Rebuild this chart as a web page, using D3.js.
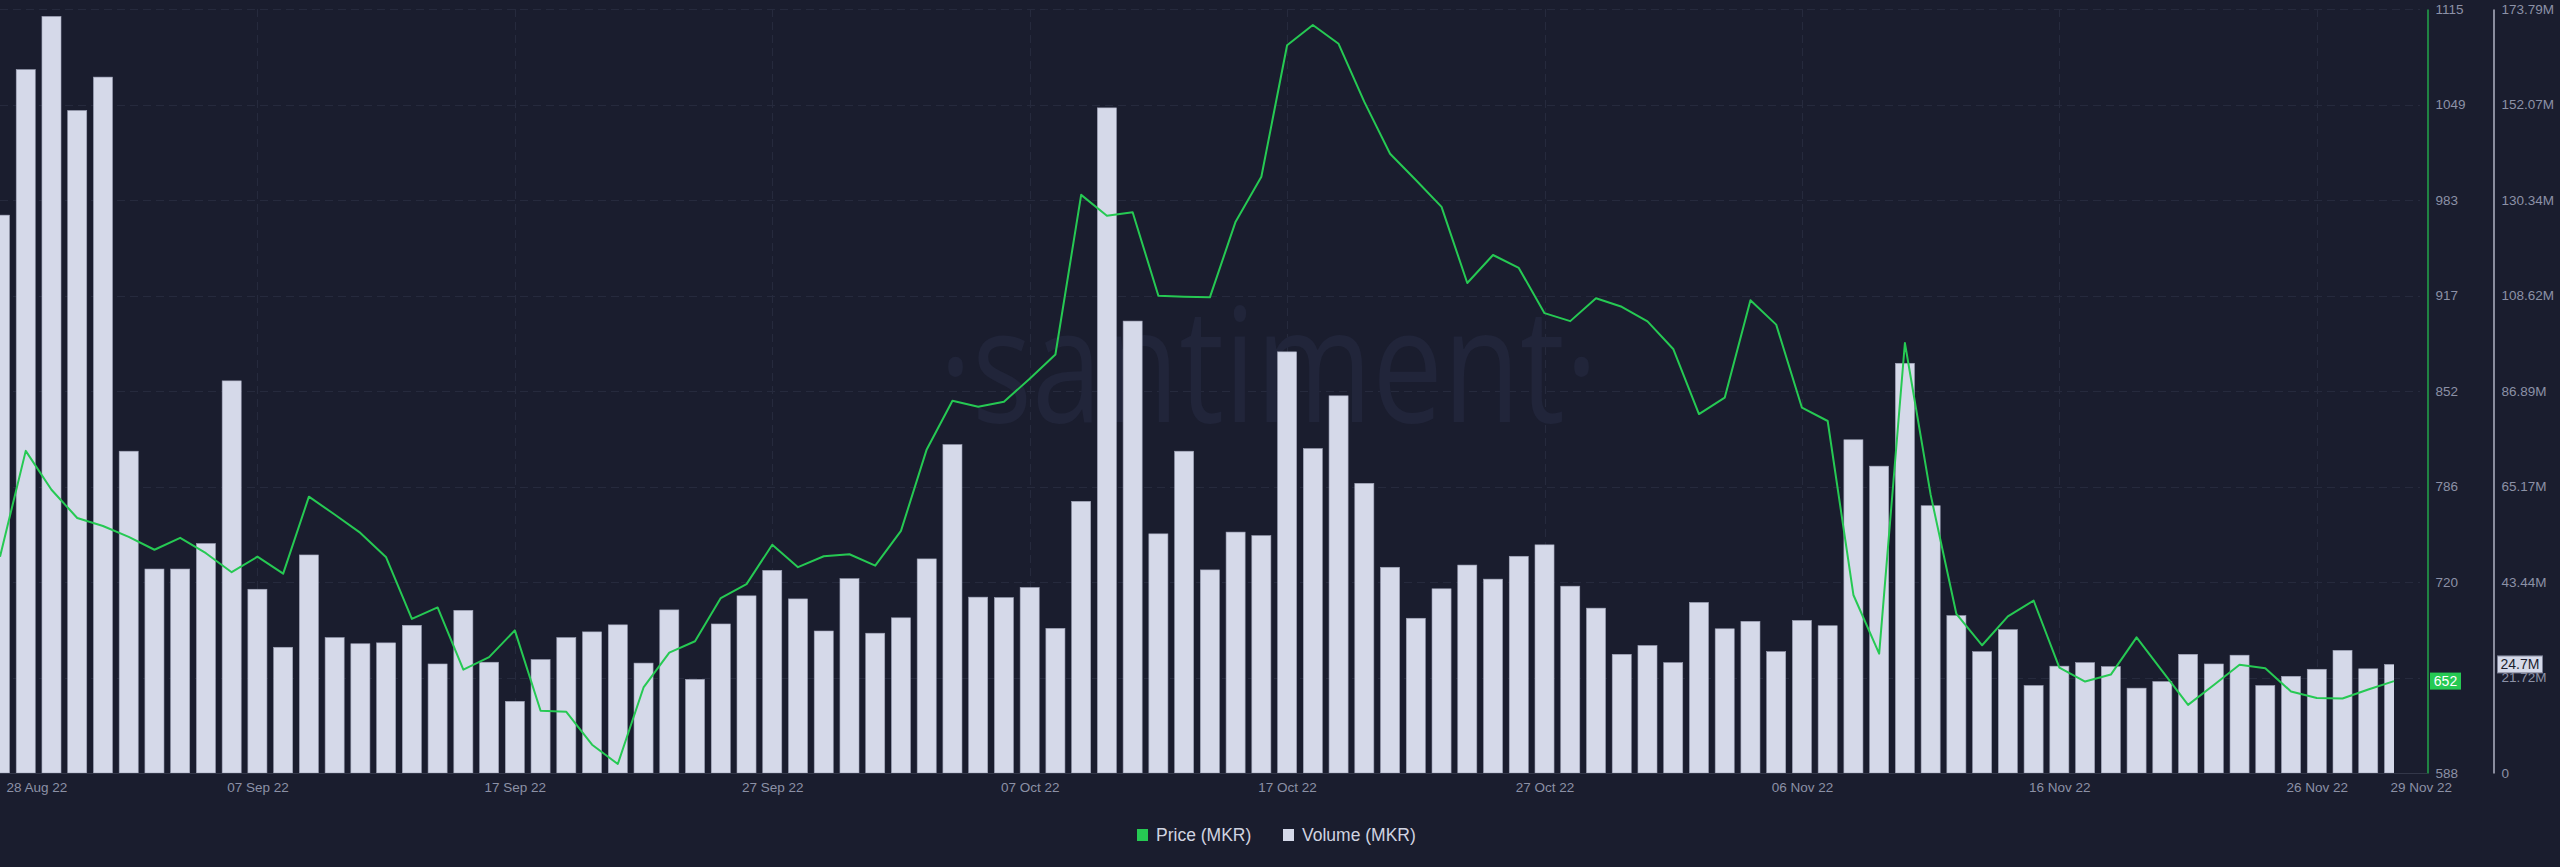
<!DOCTYPE html>
<html><head><meta charset="utf-8">
<script src="https://cdn.jsdelivr.net/npm/d3@7"></script>
<style>
html,body{margin:0;padding:0;background:#1a1d2e;overflow:hidden;}
svg{display:block;}
</style></head><body>
<svg id="c" width="2560" height="867"></svg>
<script>
// ---- data ----
const startDate = "2022-08-28";
const volumeM = [
126.9,160.0,172.1,150.7,158.3,73.2,46.4,46.4,52.2,89.2,
41.8,28.6,49.6,30.8,29.4,29.6,33.6,24.8,37.0,25.2,
16.3,25.8,30.8,32.1,33.7,25.0,37.1,21.3,33.9,40.3,
46.1,39.6,32.3,44.2,31.8,35.3,48.7,74.7,40.0,39.9,
42.2,32.9,61.8,151.3,102.8,54.4,73.2,46.2,54.8,54.0,
95.8,73.8,85.8,65.9,46.8,35.2,41.9,47.3,44.1,49.3,
51.9,42.5,37.5,27.0,29.0,25.1,38.8,32.8,34.5,27.6,
34.7,33.5,75.8,69.8,93.2,60.8,35.8,27.6,32.6,19.9,
24.3,25.1,24.2,19.3,20.8,27.0,24.8,26.8,19.9,22.0,
23.6,27.9,23.7,24.7];
const price = [
737.2,810.2,783.4,763.9,758.4,750.9,742.0,750.2,739.6,726.5,
737.2,725.5,778.6,766.3,753.6,736.8,694.3,702.2,659.3,667.9,
686.4,630.9,630.2,607.5,594.2,647.0,671.0,678.9,708.7,718.3,
745.4,730.0,737.5,738.9,731.0,755.0,811.2,844.8,840.7,844.1,
859.9,876.7,986.8,972.4,974.8,917.2,916.5,916.1,968.3,999.3,
1090,1104,1091,1050.9,1015.2,997.0,978.5,926.0,945.3,936.4,
905.2,899.7,915.5,909.6,899.5,880.5,835.6,846.9,914.1,897.3,
840.0,830.8,710.8,670.3,884.6,780.0,697.7,676.1,696.0,707.0,
660.7,651.1,655.9,681.6,658.3,635.0,648.7,662.7,660.3,644.2,
639.8,639.4,645.6,651.4];
const priceDomain = [588, 1115];
const volDomainM = [0, 173.79];
const priceTickLabels = ["588","654","720","786","852","917","983","1049","1115"];
const volTickLabels = ["0","21.72M","43.44M","65.17M","86.89M","108.62M","130.34M","152.07M","173.79M"];
const legendLabels = ["Price (MKR)","Volume (MKR)"];
const lastPriceLabel = "652";
const lastVolLabel = "24.7M";

// ---- styles ----
const C = {bg:"#1a1d2e", grid:"#262a3d", text:"#8c91a6", green:"#26c953", bar:"#d5d9e9", barStroke:"#9ea2b6", wm:"#21253a"};
const font = "'Liberation Sans', Arial, sans-serif";

const svg = d3.select("#c");
svg.append("rect").attr("width",2560).attr("height",867).attr("fill",C.bg);

const plot = {left:0, right:2394, top:9, bottom:773};
const start = d3.utcParse("%Y-%m-%d")(startDate);
const dates = price.map((_, i) => d3.utcDay.offset(start, i));
const x = d3.scaleUtc().domain([dates[0], dates[dates.length-1]]).range([plot.left, plot.right]);
const yP = d3.scaleLinear().domain(priceDomain).range([plot.bottom, plot.top]);
const yV = d3.scaleLinear().domain(volDomainM).range([plot.bottom, plot.top]);

const priceTicks = d3.range(9).map(k => priceDomain[0] + k*(priceDomain[1]-priceDomain[0])/8);
const volTicks = d3.range(9).map(k => k*volDomainM[1]/8);
const dateTicks = dates.filter((d,i) => i % 10 === 0);
const fmt = d3.utcFormat("%d %b %y");

// gridlines
const grid = svg.append("g");
grid.selectAll("line.h").data(priceTicks.slice(1)).join("line")
  .attr("x1", 0).attr("x2", 2420)
  .attr("y1", d => Math.round(yP(d))+0.5).attr("y2", d => Math.round(yP(d))+0.5)
  .attr("stroke", C.grid).attr("stroke-width", 1).attr("stroke-dasharray", "8,5");
grid.selectAll("line.v").data(dateTicks.slice(1)).join("line")
  .attr("x1", d => Math.round(x(d))+0.5).attr("x2", d => Math.round(x(d))+0.5)
  .attr("y1", plot.top).attr("y2", plot.bottom)
  .attr("stroke", C.grid).attr("stroke-width", 1).attr("stroke-dasharray", "8,5");

// watermark
svg.append("text").attr("x", 939).attr("y", 422)
  .attr("textLength", 659).attr("lengthAdjust", "spacingAndGlyphs")
  .attr("font-family", "'Open Sans', sans-serif").attr("font-weight", 400)
  .attr("font-size", 160).attr("fill", C.wm).text("\u00B7santiment\u00B7");

// clip
svg.append("clipPath").attr("id","clip").append("rect")
  .attr("x", plot.left).attr("y", 0).attr("width", plot.right-plot.left).attr("height", plot.bottom);

const band = (plot.right-plot.left)/(dates.length-1);
const bw = band*0.74;
svg.append("g").attr("clip-path","url(#clip)")
  .selectAll("rect").data(volumeM).join("rect")
  .attr("x", (d,i) => x(dates[i]) - bw/2)
  .attr("width", bw)
  .attr("y", d => yV(d))
  .attr("height", d => yV(0) - yV(d))
  .attr("fill", C.bar).attr("stroke", C.barStroke).attr("stroke-width", 0.6);

// price line
const line = d3.line().x((d,i) => x(dates[i])).y(d => yP(d));
svg.append("path").datum(price).attr("d", line)
  .attr("fill","none").attr("stroke", C.green).attr("stroke-width", 2).attr("stroke-linejoin","round");

// bottom line
svg.append("line").attr("x1", 0).attr("x2", 2427).attr("y1", plot.bottom+0.5).attr("y2", plot.bottom+0.5)
  .attr("stroke", "#333749").attr("stroke-width", 1);

// x axis
const xa = svg.append("g").attr("transform", `translate(0,${plot.bottom})`)
  .call(d3.axisBottom(x).tickValues(dateTicks.concat([dates[dates.length-1]])).tickFormat(fmt).tickSize(0).tickPadding(9));
xa.select(".domain").remove();
xa.selectAll("text").attr("font-family", font).attr("font-size", 13.5).attr("fill", C.text);
xa.selectAll(".tick").filter((d,i) => i === 0).select("text").attr("text-anchor","start").attr("x", 6);
xa.selectAll(".tick").filter((d,i,n) => i === n.length-1).select("text").attr("text-anchor","start").attr("x", -4);

// price axis
const pa = svg.append("g").attr("transform", "translate(2427.5,0)")
  .call(d3.axisRight(yP).tickValues(priceTicks).tickFormat((d,i) => priceTickLabels[i]).tickSize(0).tickPadding(8));
pa.select(".domain").attr("stroke", C.green).attr("stroke-width", 1.2);
pa.selectAll("text").attr("font-family", font).attr("font-size", 13.5).attr("fill", C.text);

// volume axis
const va = svg.append("g").attr("transform", "translate(2493.5,0)")
  .call(d3.axisRight(yV).tickValues(volTicks).tickFormat((d,i) => volTickLabels[i]).tickSize(0).tickPadding(8));
va.select(".domain").attr("stroke", "#d5d9e9").attr("stroke-width", 1.2);
va.selectAll("text").attr("font-family", font).attr("font-size", 13.5).attr("fill", C.text);

// last value labels
const lp = yP(price[price.length-1]);
svg.append("rect").attr("x", 2430).attr("y", lp-8.5).attr("width", 31).attr("height", 17).attr("fill", C.green);
svg.append("text").attr("x", 2445.5).attr("y", lp).attr("dy","0.35em").attr("text-anchor","middle")
  .attr("font-family", font).attr("font-size", 14).attr("fill", "#ffffff").text(lastPriceLabel);
const lv = yV(volumeM[volumeM.length-1]);
svg.append("rect").attr("x", 2497.5).attr("y", lv-8.5).attr("width", 45).attr("height", 17)
  .attr("fill", C.bar).attr("stroke", "#7d8196").attr("stroke-width", 1);
svg.append("text").attr("x", 2520).attr("y", lv).attr("dy","0.35em").attr("text-anchor","middle")
  .attr("font-family", font).attr("font-size", 14).attr("fill", C.bg).text(lastVolLabel);

// legend
const lg = svg.append("g");
const legendItems = [{label: legendLabels[0], color: C.green, x: 1137}, {label: legendLabels[1], color: C.bar, x: 1283}];
lg.selectAll("rect").data(legendItems).join("rect")
  .attr("x", d => d.x).attr("y", 829).attr("width", 11).attr("height", 12).attr("fill", d => d.color);
lg.selectAll("text").data(legendItems).join("text")
  .attr("x", d => d.x + 19).attr("y", 835).attr("dy", "0.36em")
  .attr("font-family", font).attr("font-size", 17.5).attr("fill", "#d0d3e0").text(d => d.label);
</script>
</body></html>
